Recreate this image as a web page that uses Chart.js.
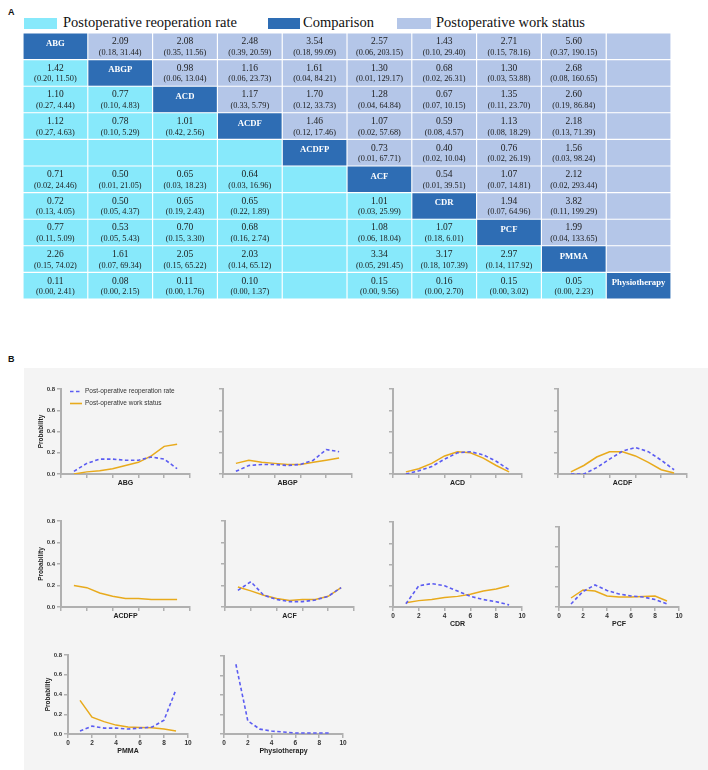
<!DOCTYPE html>
<html><head><meta charset="utf-8">
<script src="https://cdn.jsdelivr.net/npm/chart.js@4.4.1/dist/chart.umd.min.js"></script>
<style>
body{margin:0;background:#fff;}
#root{position:relative;width:708px;height:770px;overflow:hidden;}
.plab{position:absolute;font:bold 9px "Liberation Sans",Arial,sans-serif;line-height:1;color:#111;}
.sw{position:absolute;height:11px;top:18px;}
.lg{position:absolute;top:15px;font-family:"Liberation Serif","Times New Roman",serif;font-size:14.5px;line-height:1;color:#111;white-space:nowrap;}
#gray{position:absolute;left:24px;top:368px;width:684px;height:402px;background:#f4f4f4;}
canvas{position:absolute;}
</style></head>
<body><div id="root">
<div class="plab" style="left:8px;top:7.5px">A</div>
<div class="sw" style="left:24px;width:33px;background:#87e9fb"></div>
<div class="lg" style="left:63px">Postoperative reoperation rate</div>
<div class="sw" style="left:268px;width:32px;background:#2e6db4"></div>
<div class="lg" style="left:303px">Comparison</div>
<div class="sw" style="left:397px;width:34px;background:#b4c6e8"></div>
<div class="lg" style="left:436px">Postoperative work status</div>
<div class="plab" style="left:8px;top:355px">B</div>
<div id="gray"></div>
</div>
<script>
// ---------- DATA ----------
const treatments = ["ABG","ABGP","ACD","ACDF","ACDFP","ACF","CDR","PCF","PMMA","Physiotherapy"];
// upper triangle = postoperative work status, lower triangle = postoperative reoperation rate
const estimates = [
 [null,"2.09","2.08","2.48","3.54","2.57","1.43","2.71","5.60",""],
 ["1.42",null,"0.98","1.16","1.61","1.30","0.68","1.30","2.68",""],
 ["1.10","0.77",null,"1.17","1.70","1.28","0.67","1.35","2.60",""],
 ["1.12","0.78","1.01",null,"1.46","1.07","0.59","1.13","2.18",""],
 ["","","","",null,"0.73","0.40","0.76","1.56",""],
 ["0.71","0.50","0.65","0.64","",null,"0.54","1.07","2.12",""],
 ["0.72","0.50","0.65","0.65","","1.01",null,"1.94","3.82",""],
 ["0.77","0.53","0.70","0.68","","1.08","1.07",null,"1.99",""],
 ["2.26","1.61","2.05","2.03","","3.34","3.17","2.97",null,""],
 ["0.11","0.08","0.11","0.10","","0.15","0.16","0.15","0.05",null]
];
const intervals = [
 [null,"(0.18, 31.44)","(0.35, 11.56)","(0.39, 20.59)","(0.18, 99.09)","(0.06, 203.15)","(0.10, 29.40)","(0.15, 78.16)","(0.37, 190.15)",""],
 ["(0.20, 11.50)",null,"(0.06, 13.04)","(0.06, 23.73)","(0.04, 84.21)","(0.01, 129.17)","(0.02, 26.31)","(0.03, 53.88)","(0.08, 160.65)",""],
 ["(0.27, 4.44)","(0.10, 4.83)",null,"(0.33, 5.79)","(0.12, 33.73)","(0.04, 64.84)","(0.07, 10.15)","(0.11, 23.70)","(0.19, 86.84)",""],
 ["(0.27, 4.63)","(0.10, 5.29)","(0.42, 2.56)",null,"(0.12, 17.46)","(0.02, 57.68)","(0.08, 4.57)","(0.08, 18.29)","(0.13, 71.39)",""],
 ["","","","",null,"(0.01, 67.71)","(0.02, 10.04)","(0.02, 26.19)","(0.03, 98.24)",""],
 ["(0.02, 24.46)","(0.01, 21.05)","(0.03, 18.23)","(0.03, 16.96)","",null,"(0.01, 39.51)","(0.07, 14.81)","(0.02, 293.44)",""],
 ["(0.13, 4.05)","(0.05, 4.37)","(0.19, 2.43)","(0.22, 1.89)","","(0.03, 25.99)",null,"(0.07, 64.96)","(0.11, 199.29)",""],
 ["(0.11, 5.09)","(0.05, 5.43)","(0.15, 3.30)","(0.16, 2.74)","","(0.06, 18.04)","(0.18, 6.01)",null,"(0.04, 133.65)",""],
 ["(0.15, 74.02)","(0.07, 69.34)","(0.15, 65.22)","(0.14, 65.12)","","(0.05, 291.45)","(0.18, 107.39)","(0.14, 117.92)",null,""],
 ["(0.00, 2.41)","(0.00, 2.15)","(0.00, 1.76)","(0.00, 1.37)","","(0.00, 9.56)","(0.00, 2.70)","(0.00, 3.02)","(0.00, 2.23)",null]
];

const ranks = [1,2,3,4,5,6,7,8,9];
const reopABG   = [0.025,0.10,0.14,0.14,0.13,0.13,0.16,0.14,0.05];
const workABG   = [0.00,0.02,0.03,0.05,0.08,0.11,0.17,0.26,0.28];
const reopABGP  = [0.025,0.08,0.09,0.09,0.08,0.09,0.13,0.23,0.21];
const workABGP  = [0.10,0.13,0.11,0.10,0.09,0.09,0.11,0.13,0.15];
const reopACD   = [0.00,0.03,0.07,0.14,0.20,0.21,0.18,0.12,0.04];
const workACD   = [0.02,0.05,0.10,0.17,0.21,0.20,0.15,0.08,0.02];
const reopACDF  = [0.00,0.00,0.06,0.14,0.215,0.25,0.21,0.13,0.04];
const workACDF  = [0.02,0.08,0.16,0.21,0.21,0.17,0.11,0.04,0.01];
const workACDFP = [0.20,0.18,0.13,0.10,0.08,0.08,0.07,0.07,0.07];
const reopACF   = [0.155,0.235,0.11,0.07,0.05,0.05,0.065,0.10,0.18];
const workACF   = [0.186,0.15,0.11,0.08,0.06,0.07,0.07,0.10,0.18];
const reopCDR   = [0.03,0.20,0.22,0.20,0.15,0.10,0.07,0.05,0.02];
const workCDR   = [0.04,0.06,0.07,0.09,0.10,0.12,0.15,0.17,0.20];
const reopPCF   = [0.03,0.155,0.22,0.165,0.13,0.11,0.10,0.075,0.03];
const workPCF   = [0.09,0.17,0.16,0.11,0.10,0.10,0.105,0.11,0.06];
const reopPMMA  = [0.03,0.08,0.06,0.06,0.05,0.06,0.07,0.14,0.45];
const workPMMA  = [0.34,0.17,0.125,0.09,0.07,0.067,0.064,0.05,0.03];
const reopPhysio= [0.715,0.135,0.05,0.03,0.02,0.01,0.01,0.01,0.01];
const yTicks = [0,0.2,0.4,0.6,0.8];
const xTicks = [0,2,4,6,8,10];

// ---------- STYLE ----------
const C_REOP = '#87e9fb', C_DIAG = '#2e6db4', C_WORK = '#b4c6e8';
const BLUE = '#5b5cf2', ORANGE = '#e8aa1c';
const AXIS = '#b0b0b0';
const root = document.getElementById('root');

// ---------- TABLE (stacked horizontal bars = cells) ----------
function cellColor(i, j){ return i===j ? C_DIAG : (j>i ? C_WORK : C_REOP); }
const cellText = {
  id:'cellText',
  afterDatasetsDraw(chart){
    const ctx = chart.ctx;
    ctx.save();
    ctx.textAlign = 'center'; ctx.textBaseline = 'middle';
    chart.data.datasets.forEach((ds, j) => {
      chart.getDatasetMeta(j).data.forEach((el, i) => {
        const cx = (el.x + el.base) / 2, h = el.height, top = el.y - h/2;
        if (i === j) {
          ctx.fillStyle = '#ffffff';
          ctx.font = 'bold 8.7px "Liberation Serif", serif';
          ctx.fillText(treatments[i], cx, top + h*0.40);
        } else if (estimates[i][j]) {
          ctx.fillStyle = '#1c1c1c';
          ctx.font = '9.5px "Liberation Serif", serif';
          ctx.fillText(estimates[i][j], cx, top + h*0.33);
          ctx.font = '8.3px "Liberation Serif", serif';
          ctx.fillText(intervals[i][j], cx, top + h*0.74);
        }
      });
    });
    ctx.restore();
  }
};
(function(){
  const c = document.createElement('canvas');
  c.width = 648; c.height = 266; c.style.left = '23px'; c.style.top = '33px';
  root.appendChild(c);
  new Chart(c, {
    type:'bar',
    data:{ labels: treatments,
      datasets: treatments.map((t, j) => ({
        label: t,
        data: treatments.map(() => 1),
        backgroundColor: ctx => cellColor(ctx.dataIndex, j),
        borderColor:'#ffffff', borderWidth:0.9, borderSkipped:false,
        barPercentage:1, categoryPercentage:1
      }))
    },
    options:{
      indexAxis:'y', responsive:false, animation:false, devicePixelRatio:1,
      layout:{padding:0},
      plugins:{legend:{display:false}, tooltip:{enabled:false}},
      scales:{ x:{stacked:true, min:0, max:treatments.length, display:false},
               y:{stacked:true, display:false} }
    },
    plugins:[cellText]
  });
})();

// ---------- RANK PROBABILITY PANELS ----------
const panels = [
 {name:"ABG",  reop:reopABG,  work:workABG,  l:61,  r:190, t:389, b:474, yLab:true,  xLab:false, legend:true},
 {name:"ABGP", reop:reopABGP, work:workABGP, l:223, r:352, t:389, b:474},
 {name:"ACD",  reop:reopACD,  work:workACD,  l:393, r:522, t:389, b:474},
 {name:"ACDF", reop:reopACDF, work:workACDF, l:558, r:687, t:389, b:474},
 {name:"ACDFP",reop:null,     work:workACDFP,l:61,  r:190, t:521, b:607, yLab:true},
 {name:"ACF",  reop:reopACF,  work:workACF,  l:225, r:354, t:521, b:607},
 {name:"CDR",  reop:reopCDR,  work:workCDR,  l:393, r:522, t:522, b:607, xLab:true},
 {name:"PCF",  reop:reopPCF,  work:workPCF,  l:559, r:679, t:527, b:607, xLab:true},
 {name:"PMMA", reop:reopPMMA, work:workPMMA, l:68,  r:188, t:655, b:734, yLab:true, xLab:true},
 {name:"Physiotherapy", reop:reopPhysio, work:null, l:224, r:343, t:656, b:734, xLab:true}
];

const insideLegend = {
  id:'insideLegend',
  afterDraw(chart){
    const ctx = chart.ctx, a = chart.chartArea;
    const items = [
      {text:'Post-operative reoperation rate', color:BLUE, dash:[3.5,2.5]},
      {text:'Post-operative work status', color:ORANGE, dash:[]}
    ];
    ctx.save();
    ctx.font = '6.5px "Liberation Sans", Arial, sans-serif';
    ctx.textBaseline = 'middle';
    items.forEach((it, k) => {
      const y = a.top + 2.5 + k*12;
      ctx.strokeStyle = it.color; ctx.lineWidth = 1.6; ctx.setLineDash(it.dash);
      ctx.beginPath(); ctx.moveTo(a.left + 9, y); ctx.lineTo(a.left + 21, y); ctx.stroke();
      ctx.fillStyle = '#333'; ctx.fillText(it.text, a.left + 24, y);
    });
    ctx.restore();
  }
};

function makePanel(p){
  const yW = 24, padT = 8, padR = 10;
  const xH = p.xLab ? 21 : 13;
  const c = document.createElement('canvas');
  c.width = yW + (p.r - p.l) + padR;
  c.height = padT + (p.b - p.t) + xH;
  c.style.left = (p.l - yW) + 'px';
  c.style.top = (p.t - padT) + 'px';
  root.appendChild(c);
  const datasets = [];
  if (p.reop) datasets.push({label:'Post-operative reoperation rate',
    data: ranks.map((x, i) => ({x, y:p.reop[i]})), borderColor:BLUE, borderDash:[3.5,2.5],
    borderWidth:1.6, pointRadius:0, fill:false, tension:0});
  if (p.work) datasets.push({label:'Post-operative work status',
    data: ranks.map((x, i) => ({x, y:p.work[i]})), borderColor:ORANGE,
    borderWidth:1.5, pointRadius:0, fill:false, tension:0});
  const tickFont = {family:'"Liberation Sans", Arial, sans-serif', size:6, weight:'bold'};
  new Chart(c, {
    type:'line',
    data:{datasets},
    options:{
      responsive:false, animation:false, devicePixelRatio:1,
      layout:{padding:{top:padT, right:padR, left:0, bottom:0}},
      plugins:{legend:{display:false}, tooltip:{enabled:false}},
      scales:{
        x:{type:'linear', min:xTicks[0], max:xTicks[xTicks.length-1],
           afterBuildTicks(s){ s.ticks = xTicks.map(v => ({value:v})); },
           ticks:{display:!!p.xLab, padding:1, color:'#333', font:{family:tickFont.family, size:6.5, weight:'bold'}},
           grid:{drawOnChartArea:false, drawTicks:true, tickLength:4, color:AXIS, lineWidth:1.5},
           border:{display:true, color:AXIS, width:2},
           title:{display:true, text:p.name, padding:0, color:'#222',
                  font:{family:'"Liberation Sans", Arial, sans-serif', size:7, weight:'bold'}},
           afterFit(s){ s.height = xH; }},
        y:{min:yTicks[0], max:yTicks[yTicks.length-1],
           afterBuildTicks(s){ s.ticks = yTicks.map(v => ({value:v})); },
           ticks:{display:!!p.yLab, padding:2, color:'#333', font:tickFont, callback:v => Number(v).toFixed(1)},
           grid:{drawOnChartArea:false, drawTicks:true, tickLength:4, color:AXIS, lineWidth:1.5},
           border:{display:true, color:AXIS, width:2},
           title:{display:!!p.yLab, text:'Probability', padding:0, color:'#222',
                  font:{family:'"Liberation Sans", Arial, sans-serif', size:6.5, weight:'bold'}},
           afterFit(s){ s.width = yW; }}
      }
    },
    plugins: p.legend ? [insideLegend] : []
  });
}
panels.forEach(makePanel);
</script>
</body></html>
